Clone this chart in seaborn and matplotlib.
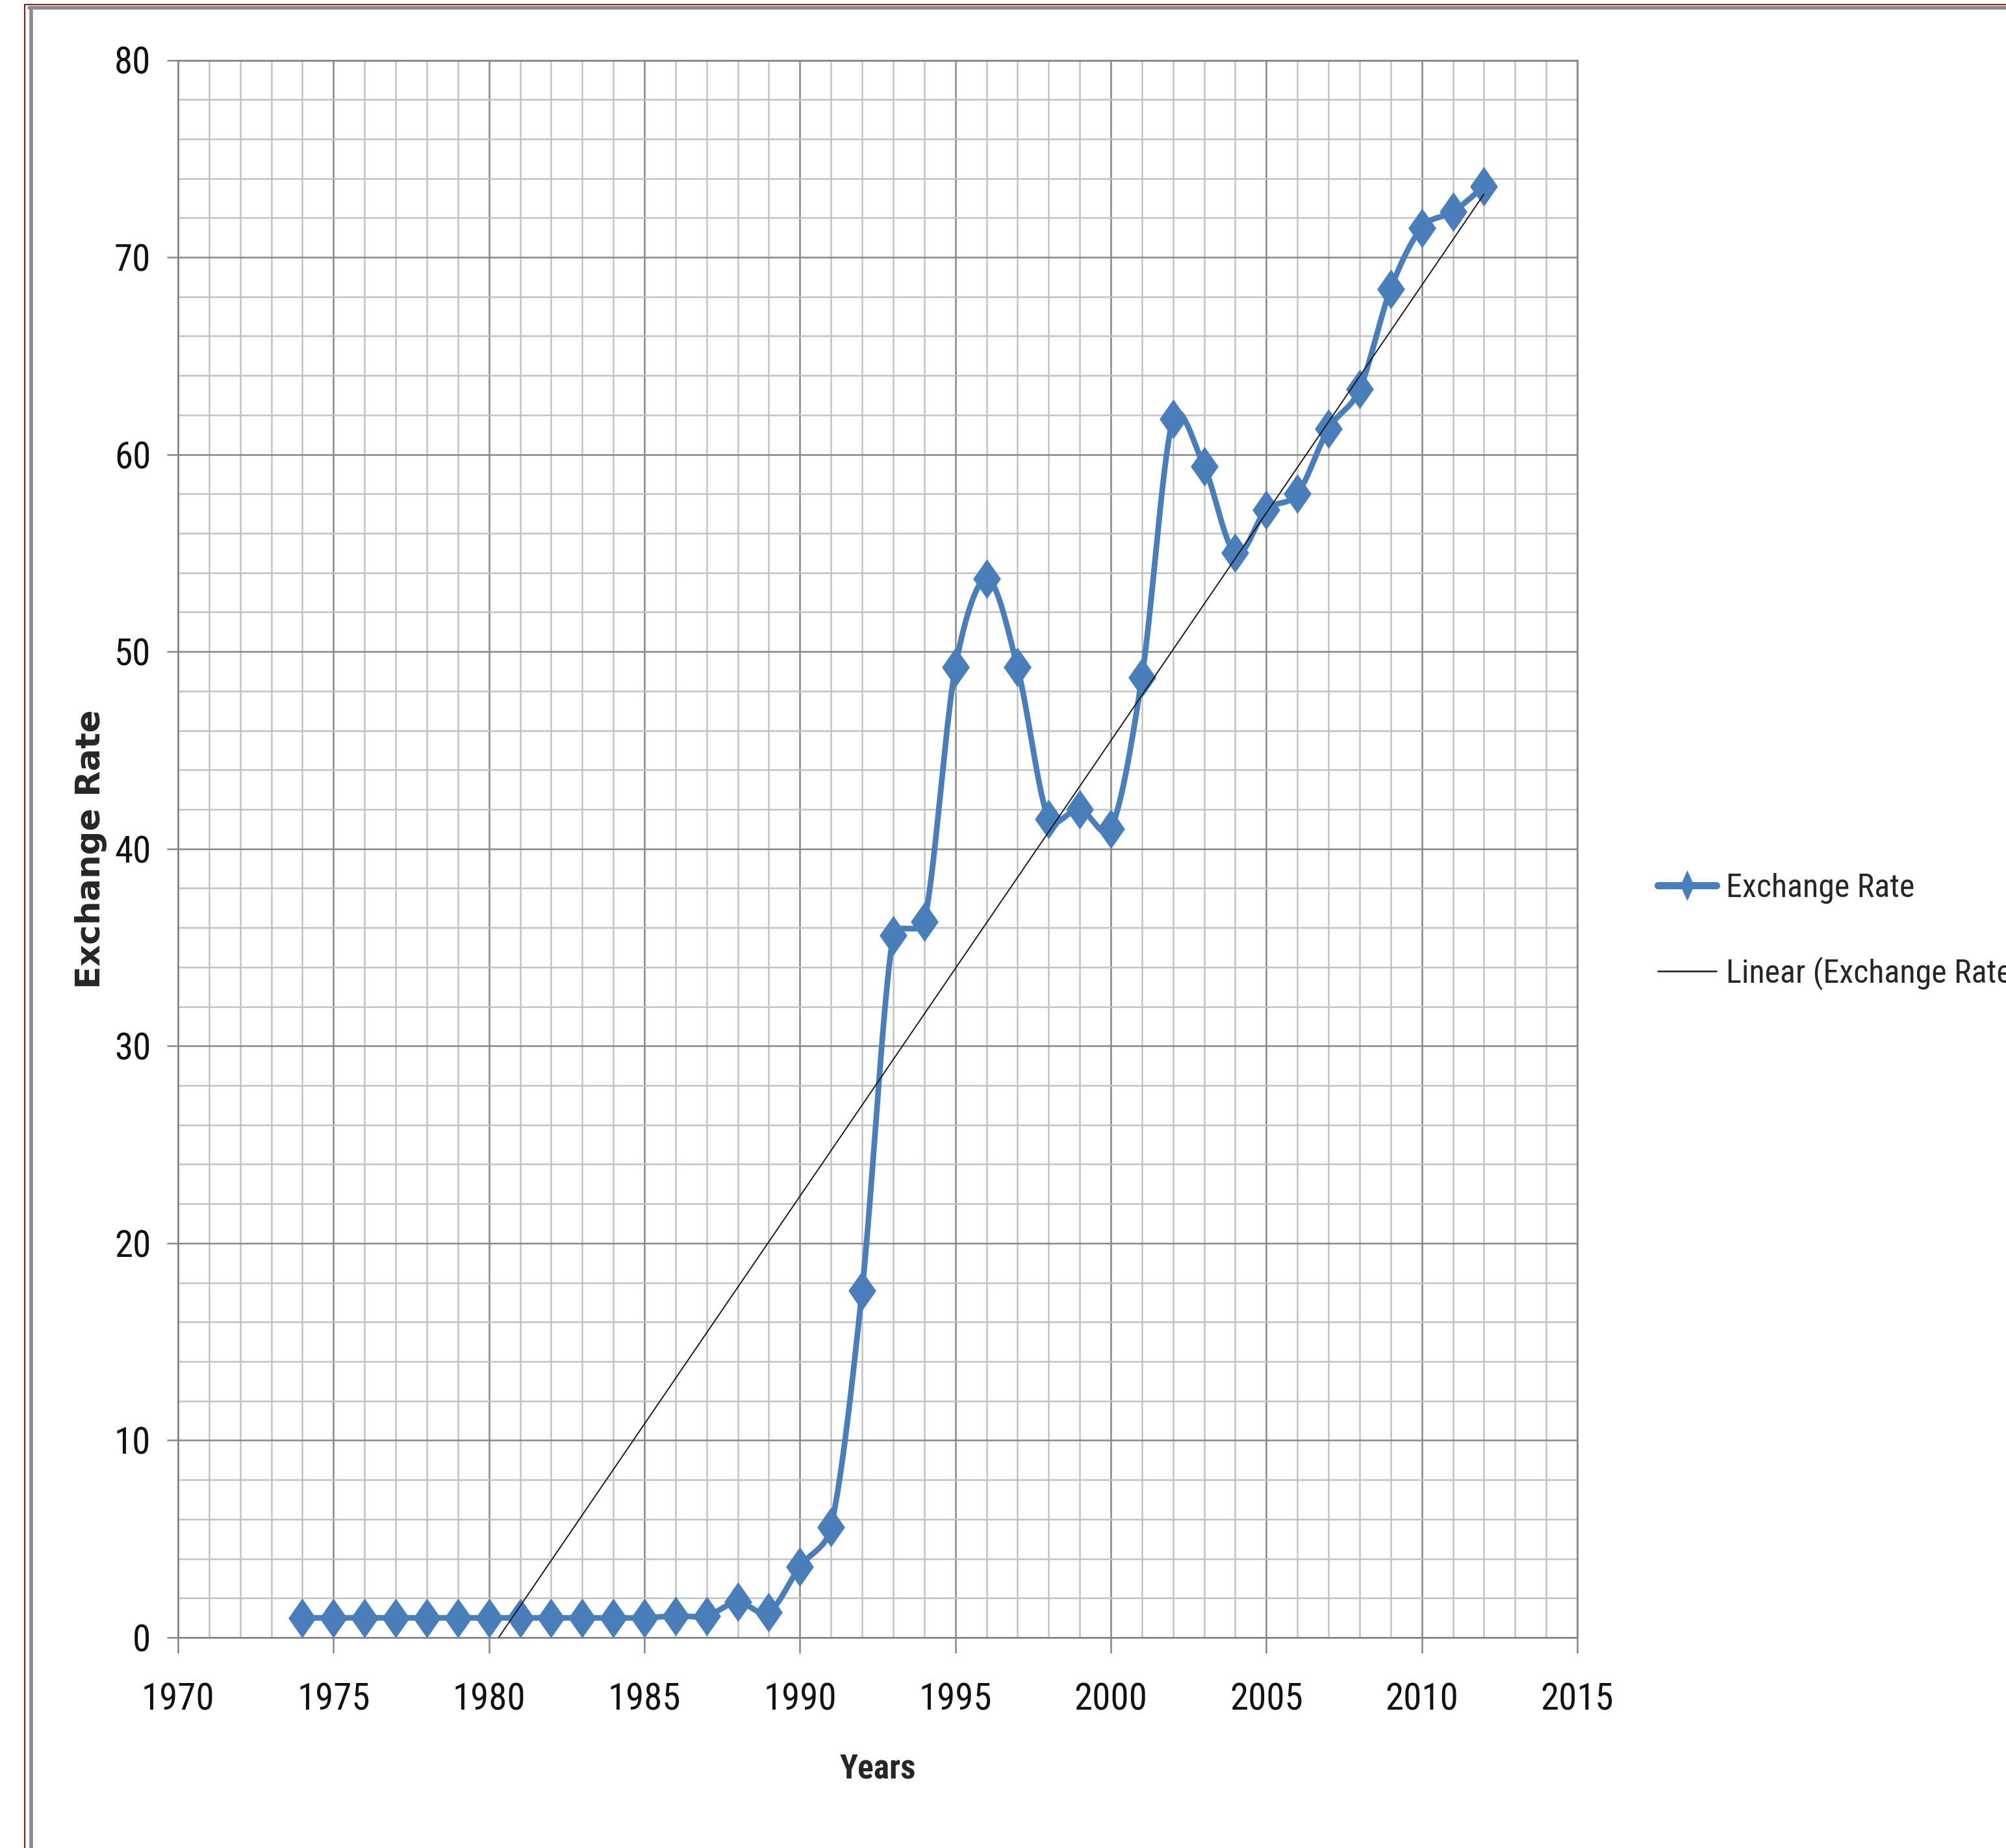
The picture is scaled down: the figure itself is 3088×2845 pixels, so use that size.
import numpy as np
import matplotlib
matplotlib.use("Agg")
import matplotlib.pyplot as plt
import seaborn as sns
from matplotlib.lines import Line2D
from matplotlib.path import Path
from matplotlib.ticker import MultipleLocator
from matplotlib import font_manager

# ---------------- data ----------------
years = [1974, 1975, 1976, 1977, 1978, 1979, 1980, 1981, 1982, 1983, 1984, 1985,
         1986, 1987, 1988, 1989, 1990, 1991, 1992, 1993, 1994, 1995, 1996, 1997,
         1998, 1999, 2000, 2001, 2002, 2003, 2004, 2005, 2006, 2007, 2008, 2009,
         2010, 2011, 2012]
rates = [1.0, 1.0, 1.0, 1.0, 1.0, 1.0, 1.0, 1.0, 1.0, 1.0, 1.0, 1.0,
         1.1, 1.1, 1.8, 1.3, 3.6, 5.6, 17.6, 35.6, 36.3, 49.2, 53.7, 49.2,
         41.5, 42.0, 41.0, 48.7, 61.8, 59.4, 55.0, 57.2, 58.0, 61.3, 63.3, 68.4,
         71.5, 72.3, 73.6]
x_ticks = [1970, 1975, 1980, 1985, 1990, 1995, 2000, 2005, 2010, 2015]
y_ticks = [0, 10, 20, 30, 40, 50, 60, 70, 80]
series_label = "Exchange Rate"
trend_label = "Linear (Exchange Rate)"
x_title = "Years"
y_title = "Exchange Rate"

BLUE = "#4A7EBB"

sns.set_theme(style="white")

# pick the narrowest installed sans family available
fonts = font_manager.fontManager.ttflist
names = {f.name for f in fonts}
NARROW = None
for cand in ["Liberation Sans Narrow", "Roboto Condensed", "Open Sans Condensed",
             "Noto Sans Condensed", "DejaVu Sans Condensed", "Arial Narrow"]:
    if cand in names:
        NARROW = dict(family=[cand, "DejaVu Sans"])
        break
if NARROW is None:
    cond = [f for f in fonts if str(f.stretch) in ("condensed", "semi-condensed",
                                                  "extra-condensed", "ultra-condensed")
            and f.name in ("DejaVu Sans", "Noto Sans", "Open Sans", "Roboto",
                           "Liberation Sans", "Lato", "Inter")]
    if cond:
        NARROW = dict(family=[cond[0].name, "DejaVu Sans"], stretch=cond[0].stretch)
    else:
        NARROW = dict(family=["Liberation Sans", "DejaVu Sans"])
plt.rcParams["font.family"] = NARROW["family"]

W, H = 3088, 2845
L, R, T, B = 274, 2428, 92.5, 2521
PX_X = (R - L) / 45.0   # px per year
PX_Y = (B - T) / 80.0   # px per unit


def excel_smooth(xs, ys, n=30, k=0.45):
    # Bezier smoothing done in screen space, tangents limited by segment length
    P = np.column_stack([np.asarray(xs, float) * PX_X, np.asarray(ys, float) * PX_Y])
    m = len(P)
    Tg = np.zeros_like(P)
    for i in range(m):
        a = P[max(i - 1, 0)]
        b = P[min(i + 1, m - 1)]
        Tg[i] = (b - a) / 6.0
    out = []
    for i in range(m - 1):
        p1, p2 = P[i], P[i + 1]
        seg = np.linalg.norm(p2 - p1)
        t1, t2 = Tg[i], Tg[i + 1]
        n1, n2 = np.linalg.norm(t1), np.linalg.norm(t2)
        if n1 > 0:
            t1 = t1 * min(1.0, k * seg / n1)
        if n2 > 0:
            t2 = t2 * min(1.0, k * seg / n2)
        c1 = p1 + t1
        c2 = p2 - t2
        t = np.linspace(0, 1, n, endpoint=(i == m - 2))[:, None]
        s = (1 - t) ** 3 * p1 + 3 * (1 - t) ** 2 * t * c1 + 3 * (1 - t) * t ** 2 * c2 + t ** 3 * p2
        out.append(s)
    S = np.vstack(out)
    return S[:, 0] / PX_X, S[:, 1] / PX_Y


fig = plt.figure(figsize=(W / 100, H / 100), dpi=100)
fig.patch.set_facecolor("white")
ax = fig.add_axes([L / W, 1 - B / H, (R - L) / W, (B - T) / H])

sx, sy = excel_smooth(years, rates)
sns.lineplot(x=sx, y=sy, sort=False, estimator=None, ax=ax,
             color=BLUE, lw=6.3, zorder=3)

diamond = Path([(0, 1), (0.7, 0), (0, -1), (-0.7, 0), (0, 1)],
               [Path.MOVETO, Path.LINETO, Path.LINETO, Path.LINETO, Path.CLOSEPOLY])
thin_diamond = Path([(0, 1), (0.45, 0), (0, -1), (-0.45, 0), (0, 1)],
                    [Path.MOVETO, Path.LINETO, Path.LINETO, Path.LINETO, Path.CLOSEPOLY])
sns.scatterplot(x=years, y=rates, marker=diamond, s=44 ** 2, color=BLUE,
                edgecolor=BLUE, linewidth=0, ax=ax, zorder=4)

sns.regplot(x=years, y=rates, scatter=False, ci=None, truncate=True, ax=ax,
            line_kws=dict(color="#1a1a1a", lw=1.4, zorder=5))

ax.set_xlim(1970, 2015)
ax.set_ylim(0, 80)
ax.set_xticks(x_ticks)
ax.set_yticks(y_ticks)
ax.xaxis.set_minor_locator(MultipleLocator(1))
ax.yaxis.set_minor_locator(MultipleLocator(2))
ax.set_axisbelow(True)
ax.grid(which="minor", color="#c2c2c2", lw=1.8)
ax.grid(which="major", color="#878787", lw=1.8)
for s in ax.spines.values():
    s.set_color("#878787")
    s.set_linewidth(2.0)

ax.tick_params(axis="x", which="major", direction="out", length=17, width=1.8,
               color="#878787", pad=32, labelsize=41, labelcolor="#111111")
ax.tick_params(axis="y", which="major", direction="out", length=12, width=1.8,
               color="#878787", pad=18, labelsize=41, labelcolor="#111111")
ax.tick_params(which="minor", length=0)
ax.tick_params(bottom=True, left=True)
for lab in ax.get_xticklabels() + ax.get_yticklabels():
    lab.set_fontfamily(NARROW["family"])
    if "stretch" in NARROW:
        lab.set_fontstretch(NARROW["stretch"])

ax.set_xlabel(x_title, fontsize=37, fontweight="bold", **NARROW)
ax.xaxis.set_label_coords(0.5, (B - 2724) / (B - T))
ax.xaxis.label.set_va("center")
ax.set_ylabel(y_title, fontsize=37, fontweight="bold", family=["DejaVu Sans"])
ax.yaxis.set_label_coords((140 - L) / (R - L), 0.5)
ax.yaxis.label.set_va("center")

handles = [Line2D([], [], color=BLUE, lw=8, marker=thin_diamond, markersize=34,
                  markeredgewidth=0, solid_capstyle="round"),
           Line2D([], [], color="#1a1a1a", lw=1.8)]
leg = fig.legend(handles, [series_label, trend_label], loc="upper left",
                 bbox_to_anchor=(2552 / W, 1 - 1343 / H), frameon=False,
                 handlelength=1.8, handletextpad=0.3,
                 labelspacing=1.62, borderpad=0, borderaxespad=0,
                 prop=dict(size=36, **NARROW))

# outer frame (red hairline + gray band) like the screenshot border
fig.add_artist(Line2D([38 / W, 38 / W], [0, 1 - 7 / H], transform=fig.transFigure,
                      color="#8B1A1A", lw=1.5))
fig.add_artist(Line2D([38 / W, 1], [1 - 7 / H, 1 - 7 / H], transform=fig.transFigure,
                      color="#8B1A1A", lw=1.5))
fig.add_artist(Line2D([47.5 / W, 47.5 / W], [0, 1 - 12 / H], transform=fig.transFigure,
                      color="#8a8a8a", lw=4))
fig.add_artist(Line2D([45 / W, 1], [1 - 12 / H, 1 - 12 / H], transform=fig.transFigure,
                      color="#8a8a8a", lw=4))

fig.savefig("out.png", dpi=100, facecolor="white")
